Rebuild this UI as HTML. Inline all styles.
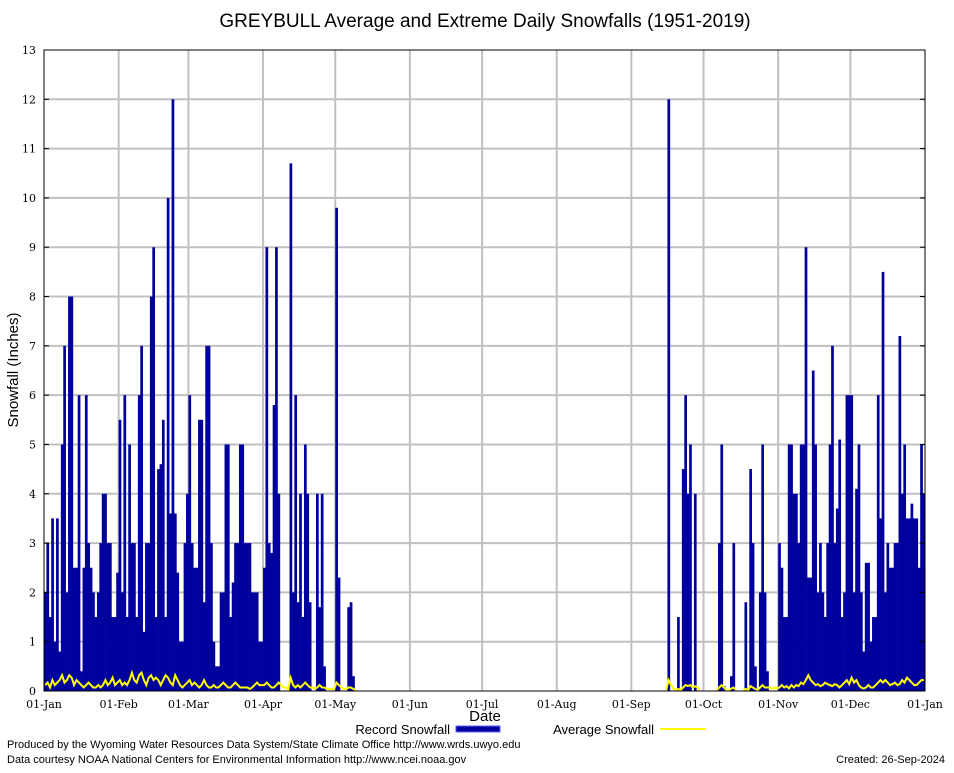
<!DOCTYPE html>
<html><head><meta charset="utf-8"><style>
body{margin:0;background:#fff;width:954px;height:768px;overflow:hidden;font-family:"Liberation Sans",sans-serif}
</style></head><body>
<svg id="chart" width="954" height="768" xmlns="http://www.w3.org/2000/svg">
<rect x="0" y="0" width="954" height="768" fill="#fff"/>
<text x="485" y="27" font-size="19" text-anchor="middle" font-family="Liberation Sans, sans-serif">GREYBULL Average and Extreme Daily Snowfalls (1951-2019)</text>
<g id="grid"></g>
<g id="bars"></g>
<path id="avg" fill="none" stroke="#ffff00" stroke-width="2"/>
<rect x="44" y="50" width="881" height="641" fill="none" stroke="#000" stroke-width="1"/>
<g id="axes"></g>
<text x="485" y="721" font-size="15" text-anchor="middle">Date</text>
<text transform="translate(18,370) rotate(-90)" font-size="15" text-anchor="middle">Snowfall (Inches)</text>
<g>
<text x="450" y="734" font-size="13" text-anchor="end">Record Snowfall</text>
<rect x="456" y="726" width="44" height="6" fill="#00009c" stroke="#6060ff"/>
<text x="654" y="734" font-size="13" text-anchor="end">Average Snowfall</text>
<line x1="660" y1="729" x2="706" y2="729" stroke="#ffff00" stroke-width="2"/>
</g>
<text x="7" y="748" font-size="11">Produced by the Wyoming Water Resources Data System/State Climate Office http://www.wrds.uwyo.edu</text>
<text x="7" y="763" font-size="11">Data courtesy NOAA National Centers for Environmental Information http://www.ncei.noaa.gov</text>
<text x="945" y="763" font-size="11" text-anchor="end">Created:  26-Sep-2024</text>
</svg>
<script>
const monthLabels=["01-Jan","01-Feb","01-Mar","01-Apr","01-May","01-Jun","01-Jul","01-Aug","01-Sep","01-Oct","01-Nov","01-Dec","01-Jan"];
const monthStartDays=[0,31,60,91,121,152,182,213,244,274,305,335,366];
const yTicks=[0,1,2,3,4,5,6,7,8,9,10,11,12,13];
const recJan=[2,3,1.5,3.5,1,3.5,0.8,5,7,2,8,8,2.5,2.5,6,0.4,2.5,6,3,2.5,2,1.5,2,3,4,4,3,3,1.5,1.5,2.4];
const recFeb=[5.5,2,6,1.5,5,3,3,1.5,6,7,1.2,3,3,8,9,1.5,4.5,4.6,5.5,1.5,10,3.6,12,3.6,2.4,1,1,3,4];
const recMar=[6,3,2.5,2.5,5.5,5.5,1.8,7,7,3,1,0.5,0.5,2,2,5,5,1.5,2.2,3,3,5,5,3,3,3,2,2,2,1,1];
const recApr=[2.5,9,3,2.8,5.8,9,4,0,0,0,0,10.7,2,6,1.8,4,1.5,5,4,1.8,0,0,4,1.7,4,0.5,0,0,0,0];
const recMay=[9.8,2.3,0,0,0,1.7,1.8,0.3,0,0,0,0,0,0,0,0,0,0,0,0,0,0,0,0,0,0,0,0,0,0,0];
const recJun=[0,0,0,0,0,0,0,0,0,0,0,0,0,0,0,0,0,0,0,0,0,0,0,0,0,0,0,0,0,0];
const recJul=[0,0,0,0,0,0,0,0,0,0,0,0,0,0,0,0,0,0,0,0,0,0,0,0,0,0,0,0,0,0,0];
const recAug=[0,0,0,0,0,0,0,0,0,0,0,0,0,0,0,0,0,0,0,0,0,0,0,0,0,0,0,0,0,0,0];
const recSep=[0,0,0,0,0,0,0,0,0,0,0,0,0,0,0,12,0,0,0,1.5,0,4.5,6,4,5,0,4,0,0,0];
const recOct=[0,0,0,0,0,0,3,5,0.1,0,0,0.3,3,0,0,0,0,1.8,0,4.5,3,0.5,0,2,5,2,0.4,0,0,0,0];
const recNov=[3,2.5,1.5,1.5,5,5,4,4,3,5,5,9,2.3,2.3,6.5,5,2,3,2,1.5,3,5,7,3,3.7,5.1,1.5,2,6,6];
const recDec=[6,2,4.1,5,2,0.8,2.6,2.6,1,1.5,1.5,6,3.5,8.5,2,3,2.5,2.5,3,3,7.2,4,5,3.5,3.5,3.8,3.5,3.5,2.5,5,4];
const avgJan=[.1,.15,.05,.2,.1,.15,.2,.3,.15,.2,.3,.25,.1,.2,.15,.1,.05,.1,.15,.1,.05,.05,.1,.05,.1,.2,.1,.15,.25,.1,.15];
const avgFeb=[.2,.1,.15,.1,.2,.35,.2,.15,.3,.35,.2,.1,.25,.3,.2,.25,.2,.1,.2,.3,.25,.15,.1,.3,.2,.1,.05,.1,.15];
const avgMar=[.2,.1,.15,.1,.05,.1,.2,.1,.05,.05,.1,.05,.05,.1,.15,.1,.05,.05,.1,.15,.1,.05,.05,.05,.05,.02,.05,.1,.15,.1,.1];
const avgApr=[.1,.15,.1,.05,.05,.1,.15,.1,.05,.05,.02,.25,.1,.05,.1,.05,.1,.15,.1,.05,.05,.02,.05,.1,.05,.05,.02,.02,.02,.02];
const avgMay=[.15,.1,.05,.02,.02,.05,.05,.02,0,0,0,0,0,0,0,0,0,0,0,0,0,0,0,0,0,0,0,0,0,0,0];
const avgJun=[0,0,0,0,0,0,0,0,0,0,0,0,0,0,0,0,0,0,0,0,0,0,0,0,0,0,0,0,0,0];
const avgJul=[0,0,0,0,0,0,0,0,0,0,0,0,0,0,0,0,0,0,0,0,0,0,0,0,0,0,0,0,0,0,0];
const avgAug=[0,0,0,0,0,0,0,0,0,0,0,0,0,0,0,0,0,0,0,0,0,0,0,0,0,0,0,0,0,0,0];
const avgSep=[0,0,0,0,0,0,0,0,0,0,0,0,0,0,0,.2,.1,.03,0,.02,0,.05,.1,.08,.1,.05,.08,.05,0,0];
const avgOct=[0,0,0,0,0,0,.05,.1,.05,0,0,.03,.05,0,0,0,0,.02,0,.08,.05,.02,0,.05,.1,.05,.05,.05,.02,.05,.03];
const avgNov=[.05,.1,.05,.08,.03,.1,.05,.1,.08,.15,.12,.2,.3,.2,.15,.1,.12,.08,.1,.15,.12,.1,.08,.12,.1,.05,.1,.15,.2,.12];
const avgDec=[.25,.15,.2,.1,.05,.03,.05,.1,.05,.05,.1,.15,.2,.15,.2,.15,.1,.12,.15,.1,.12,.2,.15,.25,.2,.15,.1,.1,.15,.2,.2];

const record=[].concat(recJan,recFeb,recMar,recApr,recMay,recJun,recJul,recAug,recSep,recOct,recNov,recDec);
const average=[].concat(avgJan,avgFeb,avgMar,avgApr,avgMay,avgJun,avgJul,avgAug,avgSep,avgOct,avgNov,avgDec);
const NS="http://www.w3.org/2000/svg";
const X0=44,X1=925,Y0=691,Y1=50,NDAYS=366,YMAX=13;
const xs=d=>X0+d*(X1-X0)/NDAYS;
const ys=v=>Y0-v*(Y0-Y1)/YMAX;
function mk(tag,attrs,parent){const e=document.createElementNS(NS,tag);for(const k in attrs)e.setAttribute(k,attrs[k]);parent.appendChild(e);return e;}
const grid=document.getElementById('grid'),axes=document.getElementById('axes'),bars=document.getElementById('bars');
yTicks.forEach(t=>{
  if(t>0&&t<YMAX){const g=mk('line',{x1:X0,x2:X1,y1:ys(t),y2:ys(t),stroke:'#c0c0c0','stroke-width':2},grid);
  
  }
  const l=mk('text',{x:36,y:ys(t)+4,'font-size':11,'text-anchor':'end','font-family':'DejaVu Serif, Liberation Serif, serif'},axes);
  l.textContent=t;
  
  
  const tk=mk('line',{x1:X0,x2:X0+5,y1:ys(t),y2:ys(t),stroke:'#000'},axes);
  
  
  const tk2=mk('line',{x1:X1-5,x2:X1,y1:ys(t),y2:ys(t),stroke:'#000'},axes);
  
  
});
monthLabels.forEach((m,i)=>{
  const x=xs(monthStartDays[i]);
  if(i>0&&i<monthLabels.length-1){const g=mk('line',{x1:x,x2:x,y1:Y1,y2:Y0,stroke:'#c0c0c0','stroke-width':2},grid);
  
  }
  const l=mk('text',{x:x,y:708,'font-size':11,'text-anchor':'middle','font-family':'DejaVu Serif, Liberation Serif, serif'},axes);
  l.textContent=m;
  
  
});
const w=(X1-X0)/NDAYS;
record.forEach((v,d)=>{
  if(v<=0)return;
  const r=mk('rect',{x:xs(d),y:ys(v),width:w+0.3,height:Y0-ys(v),fill:'#00009c'},bars);
  
  
});
let p='',prevZero=true;
average.forEach((v,d)=>{
  const pt=xs(d+0.5).toFixed(1)+','+(ys(v)-1).toFixed(1);
  const next=average[d+1]||0;
  if(v<=0&&prevZero&&next<=0){prevZero=true;return;}
  p+=(prevZero?'M':'L')+pt+' ';
  prevZero=(v<=0&&next<=0);
});
document.getElementById('avg').setAttribute('d',p);
</script>
</body></html>
